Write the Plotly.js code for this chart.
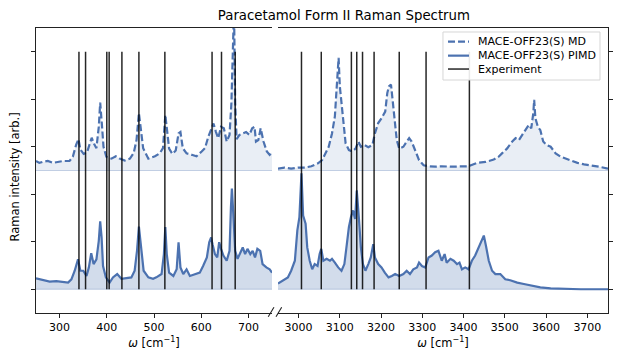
<!DOCTYPE html>
<html>
<head>
<meta charset="utf-8">
<script src="https://cdn.plot.ly/plotly-3.0.1.min.js"></script>
<style>
body { margin: 0; background: #fff; }
#chart { width: 623px; height: 363px; }
</style>
</head>
<body>
<div id="chart"></div>
<script>
// low-frequency window (cm^-1)
var mdLeftX = [250,257,264,275,286,296,307,321,328,335,340,344,351,358,364,368,373,378,383,386,
	390,393,399,410,419,427,438,449,457,463,468,472,477,488,498,502,512,519,524,528,
	532,539,546,552,556,561,569,580,590,601,608,615,621,626,631,636,642,648,654,660,
	664,667,669.5,672,675,681,688,695,702,708,713,716,721,726,732,739,745,750];
var mdLeftY = [2.70,2.66,2.68,2.70,2.66,2.68,2.70,2.70,2.79,3.04,3.16,2.94,2.85,2.88,3.04,3.19,3.06,2.97,3.42,3.93,
	3.42,3.0,2.79,2.75,2.80,2.75,2.71,2.75,2.87,3.14,3.71,3.42,2.97,2.75,2.79,2.80,2.86,2.97,3.67,3.28,
	2.96,2.85,2.92,3.28,3.31,2.97,2.86,2.83,2.80,2.90,2.97,3.21,3.39,3.49,3.32,3.18,3.42,3.39,3.11,3.25,
	3.92,4.98,5.9,3.92,3.16,3.25,3.28,3.31,3.25,3.39,3.42,3.11,3.14,3.39,3.11,2.90,2.83,2.88];
var pimdLeftX = [250,264,279,293,307,318,325,332,339,344,350,357,362,367,372,378,383,386,389,392,
	398,406,413,422,431,442,452,459,464,468,473,478,488,498,505,516,521,524,527,532,
	541,548,552,556,562,569,576,587,597,604,612,617,621,624,629,634,638,642,647,654,
	660,663,665,668,672,677,682,688,693,698,704,709,714,719,725,730,738,745,750];
var pimdLeftY = [0.23,0.20,0.16,0.17,0.16,0.14,0.21,0.39,0.63,0.39,0.39,0.28,0.46,0.76,0.53,0.63,1.02,1.43,1.09,0.49,
	0.25,0.14,0.25,0.32,0.22,0.23,0.25,0.39,0.81,1.32,0.88,0.39,0.25,0.22,0.25,0.32,0.74,1.31,0.74,0.35,
	0.28,0.42,0.99,0.46,0.32,0.42,0.28,0.32,0.35,0.49,0.67,0.99,1.09,0.95,0.74,0.67,0.99,0.85,0.71,0.60,
	0.81,1.73,2.12,1.59,0.81,0.64,0.74,0.88,0.74,0.85,0.74,0.81,0.67,0.85,0.81,0.53,0.46,0.42,0.35];

// high-frequency window (cm^-1)
var mdRightX = [2950,2966,2982,2999,3015,3031,3047,3057,3065,3073,3081,3088,3092,3097,3100,3104,3108,3114,3122,3130,
	3138,3145,3151,3159,3169,3179,3185,3193,3201,3210,3215,3219,3224,3227,3232,3238,3244,3254,3262,3268,
	3274,3282,3292,3303,3315,3331,3347,3368,3392,3412,3432,3453,3473,3485,3493,3505,3518,3526,3534,3542,
	3550,3558,3564,3569,3571,3574,3580,3586,3593,3601,3611,3623,3635,3647,3659,3676,3692,3708,3728,3750];
var mdRightY = [2.54,2.56,2.54,2.56,2.56,2.59,2.65,2.72,2.86,3.0,3.28,3.64,4.20,4.87,4.27,3.92,3.46,3.07,2.93,2.90,
	2.96,3.11,3.0,3.04,2.99,3.04,3.28,3.50,3.60,3.74,4.13,4.27,4.31,4.06,3.57,3.14,2.96,3.0,3.11,3.18,
	3.11,2.93,2.72,2.61,2.59,2.58,2.59,2.58,2.58,2.59,2.66,2.68,2.73,2.79,2.86,2.96,3.11,3.18,3.14,3.25,
	3.35,3.46,3.39,3.71,3.99,3.60,3.42,3.35,3.11,3.04,3.0,2.86,2.79,2.75,2.72,2.66,2.63,2.61,2.58,2.54];
var pimdRightX = [2950,2962,2974,2982,2991,2997,3002,3007,3011,3017,3021,3027,3033,3039,3046,3051,3055,3060,3068,3076,
	3081,3088,3096,3104,3111,3116,3122,3127,3132,3137,3141,3146,3151,3156,3162,3169,3175,3181,3185,3193,
	3201,3209,3218,3226,3234,3244,3254,3262,3270,3278,3287,3292,3299,3307,3315,3323,3331,3339,3347,3354,
	3359,3368,3376,3384,3390,3396,3404,3412,3420,3428,3436,3442,3449,3454,3461,3469,3477,3489,3501,3513,
	3530,3546,3566,3586,3611,3643,3684,3750];
var pimdRightY = [0.12,0.18,0.25,0.39,0.60,1.24,1.52,2.44,1.55,1.38,0.88,0.60,0.42,0.53,0.49,0.74,0.85,0.60,0.64,0.60,
	0.64,0.56,0.46,0.39,0.53,0.88,1.31,1.52,1.66,1.48,2.08,1.52,0.88,0.53,0.39,0.53,0.67,0.95,0.67,0.53,
	0.46,0.35,0.25,0.28,0.32,0.28,0.32,0.39,0.32,0.42,0.46,0.56,0.49,0.46,0.67,0.71,0.78,0.81,0.60,0.74,
	0.56,0.64,0.60,0.53,0.56,0.42,0.46,0.42,0.60,0.71,0.88,0.99,1.13,0.92,0.60,0.39,0.32,0.32,0.21,0.19,
	0.14,0.11,0.07,0.04,0.02,0.01,0,0];

// experimental peak positions
var expLeft = [341,355,400,405,432,468,523,623,643,672];
var expRight = [3007,3055,3128,3141,3155,3183,3244,3309,3414];
var expTop = 5;
var mdOffset = 2.5;

var seriesNames = ['MACE-OFF23(S) MD', 'MACE-OFF23(S) PIMD', 'Experiment'];

var blue = '#4C72B0';
var mdDash = '7px,3px';
var expColor = 'rgba(0,0,0,0.85)';
var ax = ['x', 'x2'];
var sets = [
	{mdX: mdLeftX, mdY: mdLeftY, pX: pimdLeftX, pY: pimdLeftY, exp: expLeft},
	{mdX: mdRightX, mdY: mdRightY, pX: pimdRightX, pY: pimdRightY, exp: expRight}
];

var data = [];
for (var k = 0; k < 2; k++) {
	var s = sets[k];
	var xa = ax[k];
	var ya = k == 0 ? 'y' : 'y2';
	var ends = [s.mdX[0], s.mdX[s.mdX.length - 1]];
	var pends = [s.pX[0], s.pX[s.pX.length - 1]];
	// shading under each curve, like fill_between
	data.push({x: ends, y: [mdOffset, mdOffset], xaxis: xa, yaxis: ya, mode: 'lines',
		line: {color: 'rgba(76,114,176,0.3)', width: 1}, showlegend: false, hoverinfo: 'skip'});
	data.push({x: s.mdX, y: s.mdY, xaxis: xa, yaxis: ya, mode: 'lines', fill: 'tonexty',
		fillcolor: 'rgba(76,114,176,0.12)', line: {width: 0}, showlegend: false, hoverinfo: 'skip'});
	data.push({x: pends, y: [0, 0], xaxis: xa, yaxis: ya, mode: 'lines',
		line: {color: 'rgba(76,114,176,0.3)', width: 1}, showlegend: false, hoverinfo: 'skip'});
	data.push({x: s.pX, y: s.pY, xaxis: xa, yaxis: ya, mode: 'lines', fill: 'tonexty',
		fillcolor: 'rgba(76,114,176,0.25)', line: {width: 0}, showlegend: false, hoverinfo: 'skip'});
}
for (var k = 0; k < 2; k++) {
	var s = sets[k];
	var xa = ax[k];
	var ya = k == 0 ? 'y' : 'y2';
	data.push({x: s.mdX, y: s.mdY, xaxis: xa, yaxis: ya, mode: 'lines', name: seriesNames[0],
		line: {color: blue, width: 2.2, dash: mdDash}, showlegend: false});
	data.push({x: s.pX, y: s.pY, xaxis: xa, yaxis: ya, mode: 'lines', name: seriesNames[1],
		line: {color: blue, width: 2.2}, showlegend: false});
	var ex = [], ey = [];
	for (var i = 0; i < s.exp.length; i++) {
		ex.push(s.exp[i], s.exp[i], null);
		ey.push(0, expTop, null);
	}
	data.push({x: ex, y: ey, xaxis: xa, yaxis: ya, mode: 'lines', name: seriesNames[2],
		line: {color: expColor, width: 1.5}, showlegend: false});
}

// hand-built legend box (plotly's own legend rows are too tall)
var legStyles = [
	{color: blue, width: 2.2, dash: mdDash},
	{color: blue, width: 2.2},
	{color: expColor, width: 1.5}
];
var legRows = [0.952, 0.903, 0.856];
var shapes = [
	{type: 'line', xref: 'paper', yref: 'paper', x0: 0.406, y0: -0.013, x1: 0.416, y1: 0.020, line: {color: '#222', width: 1.1}},
	{type: 'line', xref: 'paper', yref: 'paper', x0: 0.4196, y0: -0.013, x1: 0.4295, y1: 0.020, line: {color: '#222', width: 1.1}},
	{type: 'rect', xref: 'paper', yref: 'paper', x0: 0.7115, x1: 0.986, y0: 0.8175, y1: 0.986, layer: 'above',
		fillcolor: 'rgba(255,255,255,0.9)', line: {color: '#d6d6d6', width: 1}}
];
var annotations = [
	{text: 'Raman intensity [arb.]', xref: 'paper', yref: 'paper', x: -0.0358, y: 0.477, textangle: -90,
		showarrow: false, xanchor: 'center', yanchor: 'middle', font: {family: 'DejaVu Sans', size: 11.5, color: '#000'}}
];
for (var i = 0; i < seriesNames.length; i++) {
	shapes.push({type: 'line', xref: 'paper', yref: 'paper', x0: 0.7203, x1: 0.757, y0: legRows[i], y1: legRows[i],
		layer: 'above', line: legStyles[i]});
	annotations.push({text: seriesNames[i], xref: 'paper', yref: 'paper', x: 0.7692, y: legRows[i],
		xanchor: 'left', yanchor: 'middle', showarrow: false, font: {family: 'DejaVu Sans', size: 11, color: '#000'}});
}

var tickFont = {family: 'DejaVu Sans', size: 11, color: '#000'};
var axTitle = {text: '<i>ω</i> [cm<sup>−1</sup>]', font: {family: 'DejaVu Sans', size: 11.5, color: '#000'}, standoff: 5};
var common = {showgrid: false, zeroline: false, showline: true, linecolor: '#222', linewidth: 1.2,
	ticks: 'outside', ticklen: 4, tickwidth: 1, tickcolor: '#222', tickfont: tickFont};

var layout = {
	width: 623, height: 363,
	margin: {l: 36, r: 15, t: 28, b: 50},
	paper_bgcolor: '#fff', plot_bgcolor: 'rgba(0,0,0,0)',
	font: {family: 'DejaVu Sans', color: '#000'},
	showlegend: false,
	title: {text: 'Paracetamol Form II Raman Spectrum', font: {family: 'DejaVu Sans', size: 13.3, color: '#000'},
		xref: 'container', x: 0.552, xanchor: 'center', yref: 'container', y: 0.958, yanchor: 'middle'},
	xaxis: Object.assign({}, common, {domain: [0, 0.4126], range: [250, 750], anchor: 'y', mirror: true,
		tickvals: [300, 400, 500, 600, 700], title: axTitle}),
	xaxis2: Object.assign({}, common, {domain: [0.423, 1], range: [2950, 3750], anchor: 'y2', mirror: true,
		tickvals: [3000, 3100, 3200, 3300, 3400, 3500, 3600, 3700], title: axTitle}),
	yaxis: Object.assign({}, common, {range: [-0.5, 5.5], anchor: 'x', tickvals: [0, 1, 2, 3, 4, 5],
		showticklabels: false}),
	yaxis2: Object.assign({}, common, {range: [-0.5, 5.5], anchor: 'x2', overlaying: 'y', side: 'right',
		tickvals: [0, 1, 2, 3, 4, 5], showticklabels: false}),
	shapes: shapes,
	annotations: annotations
};

Plotly.newPlot('chart', data, layout, {displayModeBar: false, staticPlot: true});
</script>
</body>
</html>
